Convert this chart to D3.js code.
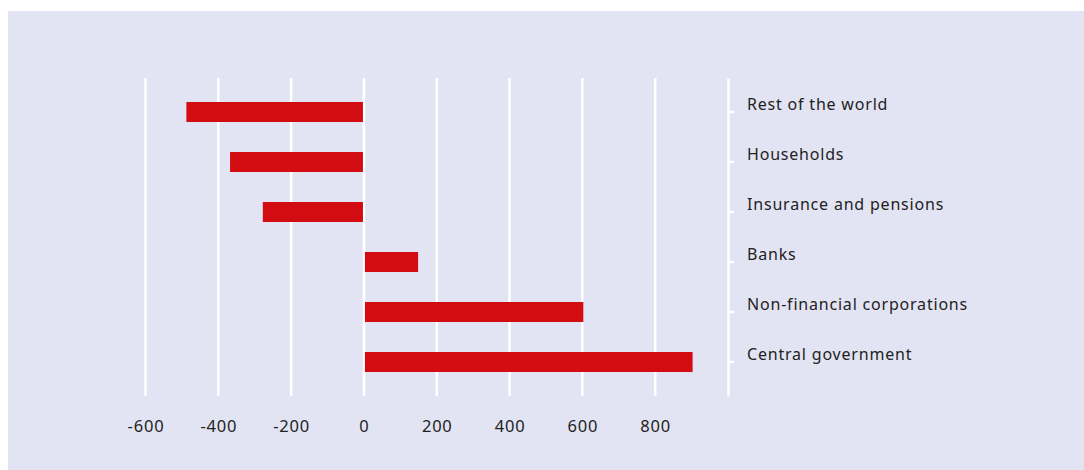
<!DOCTYPE html>
<html>
<head>
<meta charset="utf-8">
<script src="https://cdn.jsdelivr.net/npm/d3@7"></script>
<style>
  body { margin: 0; background: #ffffff; }
  svg text { font-family: "Noto Sans", sans-serif; }
</style>
</head>
<body>
<div id="chart"></div>
<script>
/* data */
const sectors = ["Rest of the world", "Households", "Insurance and pensions",
                 "Banks", "Non-financial corporations", "Central government"];
const values = [-485, -365, -275, 146, 600, 900];
const tickValues = [-600, -400, -200, 0, 200, 400, 600, 800];

/* dimensions */
let width = 1084;
let height = 470;
let panel = {x: 8, y: 11};
let plot = {left: 145.5, right: 728, top: 78, bottom: 396};

let svg = d3.select("#chart")
            .append("svg")
              .attr("width", width)
              .attr("height", height);

svg.append("rect")
   .attr("x", panel.x)
   .attr("y", panel.y)
   .attr("width", width - panel.x)
   .attr("height", height - panel.y)
   .attr("fill", "#e2e4f3");

let xScale = d3.scaleLinear()
               .domain([-600, 1000])
               .range([plot.left, plot.right]);

let yScale = d3.scaleBand()
               .domain(sectors)
               .range([plot.top, plot.bottom])
               .paddingInner(0.6)
               .paddingOuter(0.48);

// vertical gridlines
svg.append("g")
   .selectAll("line")
   .data(tickValues)
   .enter()
   .append("line")
     .attr("x1", d => xScale(d))
     .attr("x2", d => xScale(d))
     .attr("y1", plot.top)
     .attr("y2", plot.bottom)
     .attr("stroke", "#ffffff")
     .attr("stroke-width", 2.5);

// bottom tick labels (plain hyphen as in the original)
let xAxis = svg.append("g")
   .attr("transform", `translate(0, ${plot.bottom})`)
   .call(d3.axisBottom(xScale)
           .tickValues(tickValues)
           .tickFormat(d => String(d))
           .tickSize(0)
           .tickPadding(24));
xAxis.select(".domain").remove();
xAxis.selectAll("text")
     .attr("font-size", 16.5)
     .attr("letter-spacing", "0.8px")
     .attr("fill", "#222222");

// bars
svg.append("g")
   .selectAll("rect")
   .data(values)
   .enter()
   .append("rect")
     .attr("x", d => d < 0 ? xScale(d) - 1 : xScale(0) + 1)
     .attr("y", (d, i) => yScale(sectors[i]))
     .attr("width", d => Math.abs(xScale(d) - xScale(0)))
     .attr("height", yScale.bandwidth())
     .attr("fill", "#d30c12");

// right category axis
let yAxis = svg.append("g")
   .attr("transform", `translate(${plot.right}, 0)`)
   .call(d3.axisRight(yScale).tickSize(6).tickSizeOuter(0).tickPadding(13));
yAxis.select(".domain")
     .attr("stroke", "#ffffff")
     .attr("stroke-width", 2.5);
yAxis.selectAll(".tick line")
     .attr("stroke", "#ffffff")
     .attr("stroke-width", 2.5);
yAxis.selectAll("text")
     .attr("font-size", 16)
     .attr("letter-spacing", "0.8px")
     .attr("fill", "#222222")
     .attr("dy", "-0.1em");
</script>
</body>
</html>
